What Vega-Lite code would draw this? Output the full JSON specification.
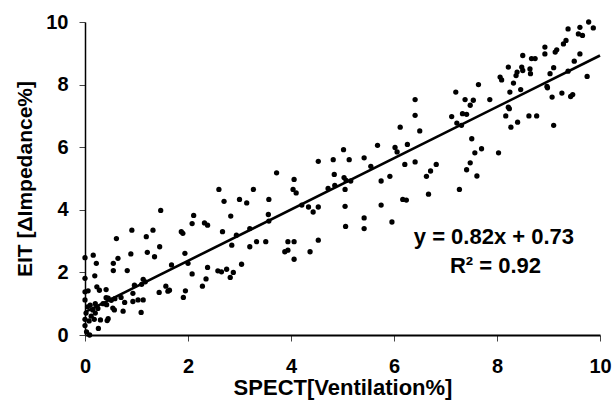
{
  "$schema": "https://vega.github.io/schema/vega-lite/v6.json",
  "autosize": {"type": "none"},
  "width": 515,
  "height": 313,
  "padding": {"left": 85, "top": 22, "right": 14, "bottom": 66},
  "background": "white",
  "config": {
    "view": {"stroke": null},
    "font": "Liberation Sans",
    "axis": {
      "grid": false,
      "labelFont": "Liberation Sans",
      "labelFontWeight": "bold",
      "labelFontSize": 20,
      "labelColor": "black",
      "titleFont": "Liberation Sans",
      "titleFontWeight": "bold",
      "titleColor": "black",
      "domainColor": "black",
      "tickColor": "#444444",
      "tickWidth": 1,
      "tickSize": 6,
      "labelFlush": false,
      "labelOverlap": false
    }
  },
  "layer": [
    {
      "data": {"values": [
        {"x":0,"y":2.47},{"x":0.16,"y":2.55},{"x":0.22,"y":2.29},{"x":0.19,"y":1.89},{"x":0,"y":1.81},{"x":0,"y":1.38},{"x":0.06,"y":1.41},{"x":0,"y":1.12},{"x":0.55,"y":2.06},{"x":0.55,"y":2.29},{"x":0.61,"y":3.08},{"x":0.64,"y":2.45},{"x":0.82,"y":2.06},{"x":0.89,"y":2.59},{"x":0.91,"y":3.35},{"x":1.19,"y":3.14},{"x":1.21,"y":2.64},{"x":1.32,"y":3.35},{"x":1.35,"y":2.5},{"x":1.45,"y":2.82},{"x":1.47,"y":3.98},{"x":1.68,"y":2.24},{"x":1.87,"y":3.3},{"x":1.9,"y":3.25},{"x":1.94,"y":2.61},{"x":2.0,"y":2.29},{"x":2.08,"y":1.95},{"x":2.08,"y":3.56},{"x":2.11,"y":3.82},
        {"x":1.13,"y":1.78},{"x":1.1,"y":1.62},{"x":1.17,"y":1.7},{"x":0.96,"y":1.59},{"x":1.44,"y":1.36},{"x":1.57,"y":1.56},{"x":1.61,"y":1.4},{"x":1.64,"y":1.43},{"x":1.95,"y":1.41},{"x":1.91,"y":1.2},
        {"x":0.77,"y":1.04},{"x":0.74,"y":0.76},{"x":0.93,"y":1.07},{"x":1.03,"y":1.12},{"x":1.13,"y":1.12},{"x":1.09,"y":0.72},{"x":0.93,"y":1.33},{"x":0.58,"y":1.16},{"x":0.51,"y":1.11},{"x":0.41,"y":1.45},{"x":0.41,"y":1.19},{"x":0.28,"y":1.43},{"x":0.23,"y":1.54},{"x":0.57,"y":0.8},{"x":0.43,"y":0.46},{"x":0.45,"y":0.52},{"x":0.26,"y":0.21},{"x":0.3,"y":0.48},
        {"x":0.02,"y":0.7},{"x":0.05,"y":0.9},{"x":0.1,"y":0.95},{"x":0.15,"y":0.8},{"x":0.2,"y":1.0},{"x":0.12,"y":0.6},{"x":0.18,"y":0.5},{"x":0.08,"y":0.45},{"x":0,"y":0.5},{"x":0,"y":0.3},{"x":0.03,"y":0.1},{"x":0.09,"y":0.0},{"x":0.2,"y":0.7},{"x":0.25,"y":0.85},{"x":0.35,"y":1.0},{"x":0.45,"y":1.18},{"x":0.42,"y":0.97},{"x":0.54,"y":0.86},{"x":0.7,"y":1.2},
        {"x":2.6,"y":4.65},{"x":3.27,"y":4.65},{"x":2.7,"y":4.27},{"x":3.0,"y":4.33},{"x":3.14,"y":4.22},{"x":3.57,"y":4.33},{"x":3.56,"y":3.85},{"x":3.57,"y":3.64},{"x":4.21,"y":4.15},{"x":4.34,"y":4.09},{"x":4.43,"y":3.93},{"x":4.53,"y":4.09},{"x":4.72,"y":4.68},{"x":2.32,"y":3.58},{"x":2.38,"y":3.51},{"x":2.83,"y":3.8},{"x":2.67,"y":3.3},{"x":2.94,"y":3.19},{"x":3.2,"y":3.4},{"x":2.85,"y":2.87},{"x":3.2,"y":2.82},{"x":3.33,"y":2.98},{"x":3.51,"y":2.98},{"x":3.88,"y":2.66},{"x":3.94,"y":2.71},{"x":3.94,"y":2.98},{"x":4.06,"y":2.98},{"x":4.06,"y":2.42},{"x":4.37,"y":2.66},{"x":4.53,"y":3.03},{"x":2.38,"y":2.16},{"x":2.58,"y":2.05},{"x":2.65,"y":2.02},{"x":2.75,"y":2.1},{"x":2.88,"y":2.0},{"x":2.82,"y":1.84},{"x":3.04,"y":2.26},{"x":2.35,"y":1.79},{"x":2.28,"y":1.56},{"x":3.72,"y":5.18},{"x":4.06,"y":4.97},{"x":4.04,"y":4.65},{"x":4.1,"y":4.54},{"x":4.53,"y":5.55},{"x":4.82,"y":5.6},{"x":4.84,"y":5.13},
        {"x":6.41,"y":7.52},{"x":6.41,"y":7.02},{"x":6.12,"y":6.64},{"x":6.5,"y":6.52},{"x":5.68,"y":6.06},{"x":6.02,"y":5.99},{"x":6.26,"y":6.09},{"x":6.06,"y":5.85},{"x":5.02,"y":5.92},{"x":5.13,"y":5.6},{"x":5.42,"y":5.66},{"x":5.55,"y":5.39},{"x":5.03,"y":5.03},{"x":5.07,"y":4.94},{"x":5.16,"y":4.92},{"x":4.85,"y":4.78},{"x":5.05,"y":4.65},{"x":5.75,"y":4.92},{"x":5.92,"y":5.07},{"x":6.21,"y":5.45},{"x":6.41,"y":5.53},{"x":6.82,"y":5.45},{"x":6.71,"y":5.24},{"x":6.63,"y":5.07},{"x":6.67,"y":4.5},{"x":5.05,"y":4.11},{"x":5.75,"y":4.15},{"x":6.17,"y":4.33},{"x":6.24,"y":4.31},{"x":5.06,"y":3.47},{"x":5.42,"y":3.74},{"x":5.42,"y":3.4},{"x":5.96,"y":3.61},{"x":7.27,"y":4.65},
        {"x":9.78,"y":10.0},{"x":9.61,"y":9.83},{"x":9.87,"y":9.81},{"x":9.38,"y":9.78},{"x":9.58,"y":9.62},{"x":9.66,"y":9.57},{"x":9.34,"y":9.41},{"x":9.29,"y":9.3},{"x":9.16,"y":9.11},{"x":9.13,"y":9.04},{"x":8.93,"y":9.2},{"x":8.93,"y":8.98},{"x":8.5,"y":8.93},{"x":8.67,"y":8.83},{"x":8.74,"y":8.83},{"x":8.48,"y":8.56},{"x":8.5,"y":8.45},{"x":8.64,"y":8.5},{"x":8.65,"y":8.35},{"x":8.39,"y":8.4},{"x":8.37,"y":8.29},{"x":8.22,"y":8.56},{"x":8.06,"y":8.24},{"x":8.09,"y":8.15},{"x":8.32,"y":8.05},{"x":8.46,"y":7.84},{"x":8.25,"y":7.76},{"x":7.86,"y":7.52},{"x":7.64,"y":8.0},{"x":7.2,"y":7.76},{"x":7.38,"y":7.52},{"x":7.54,"y":7.5},{"x":7.48,"y":7.34},{"x":7.12,"y":6.98},{"x":7.33,"y":7.07},{"x":7.41,"y":7.05},{"x":7.22,"y":6.77},{"x":7.31,"y":6.7},{"x":8.22,"y":7.28},{"x":8.24,"y":7.23},{"x":8.17,"y":7.0},{"x":8.27,"y":6.64},{"x":8.4,"y":6.8},{"x":8.62,"y":7.0},{"x":8.77,"y":7.0},{"x":9.1,"y":6.7},{"x":8.97,"y":7.94},{"x":8.98,"y":7.9},{"x":9.07,"y":7.6},{"x":9.26,"y":7.73},{"x":9.43,"y":7.62},{"x":9.47,"y":7.68},{"x":9.03,"y":8.35},{"x":9.1,"y":8.54},{"x":9.38,"y":8.43},{"x":9.5,"y":8.75},{"x":9.61,"y":8.98},{"x":9.75,"y":8.26},{"x":7.51,"y":6.27},{"x":7.57,"y":5.82},{"x":7.7,"y":5.95},{"x":8.03,"y":5.82},{"x":7.48,"y":5.5},{"x":7.41,"y":5.28},{"x":7.61,"y":5.08}
      ]},
      "mark": {"type": "circle", "size": 28, "color": "black", "opacity": 1},
      "encoding": {
        "x": {"field": "x", "type": "quantitative",
              "scale": {"domain": [0, 10], "nice": false},
              "axis": {"values": [0, 2, 4, 6, 8, 10], "title": "SPECT[Ventilation%]", "titleFontSize": 22, "domainWidth": 2, "labelPadding": 15, "titlePadding": 1}},
        "y": {"field": "y", "type": "quantitative",
              "scale": {"domain": [0, 10], "nice": false},
              "axis": {"values": [0, 2, 4, 6, 8, 10], "title": "EIT [ΔImpedance%]", "titleFontSize": 21, "domainWidth": 1.5, "labelPadding": 11, "titlePadding": 10}}
      }
    },
    {
      "data": {"values": [{"x": 0, "y": 0.73}, {"x": 10, "y": 8.93}]},
      "mark": {"type": "line", "color": "black", "strokeWidth": 2.6},
      "encoding": {
        "x": {"field": "x", "type": "quantitative"},
        "y": {"field": "y", "type": "quantitative"}
      }
    },
    {
      "data": {"values": [{"label": "y = 0.82x + 0.73", "x": 7.94, "y": 2.92}, {"label": "R² = 0.92", "x": 7.97, "y": 1.97}]},
      "mark": {"type": "text", "font": "Liberation Sans", "fontWeight": "bold", "fontSize": 22, "color": "black", "align": "center", "baseline": "alphabetic"},
      "encoding": {
        "x": {"field": "x", "type": "quantitative"},
        "y": {"field": "y", "type": "quantitative"},
        "text": {"field": "label"}
      }
    }
  ]
}
